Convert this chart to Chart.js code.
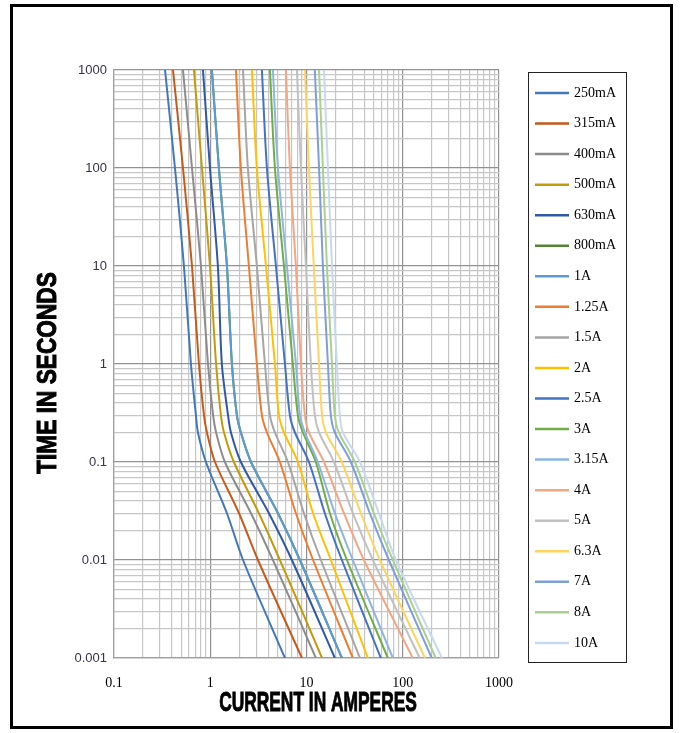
<!DOCTYPE html>
<html>
<head>
<meta charset="utf-8">
<script src="https://cdn.jsdelivr.net/npm/chart.js@4.4.1/dist/chart.umd.min.js"></script>
<style>
  html, body { margin: 0; padding: 0; background: #fff; }
</style>
</head>
<body>
<canvas id="fuseChart" width="681" height="733"></canvas>
<script>
// time points (seconds) shared by every curve
const times = [1000, 100, 10, 1, 0.3, 0.2, 0.1, 0.03, 0.01, 0.001];

const fuseLabels = ['250mA', '315mA', '400mA', '500mA', '630mA', '800mA', '1A', '1.25A', '1.5A', '2A',
    '2.5A', '3A', '3.15A', '4A', '5A', '6.3A', '7A', '8A', '10A'];
const fuseColors = ['#4178b8', '#c55a1a', '#8c8c8c', '#c39a0a', '#2f58a6', '#548235', '#5b9bd5', '#ed7d31',
    '#a5a5a5', '#ffc000', '#4472c4', '#70ad47', '#8db4e2', '#f4a582', '#c0c0c0', '#ffd45e', '#7f9ddb',
    '#a9d18e', '#c5d9f1'];

// current (A) at each time point
const cur250mA = [0.339, 0.430, 0.533, 0.630, 0.710, 0.745, 0.902, 1.49, 2.19, 5.97];
const cur315mA = [0.410, 0.521, 0.646, 0.763, 0.860, 0.924, 1.12, 1.99, 3.13, 8.96];
const cur400mA = [0.521, 0.646, 0.801, 0.947, 1.07, 1.15, 1.42, 2.65, 4.48, 12.5];
const cur500mA = [0.677, 0.820, 0.993, 1.15, 1.29, 1.39, 1.76, 3.20, 5.29, 14.5];
const cur630mA = [0.840, 0.993, 1.20, 1.32, 1.53, 1.64, 2.08, 4.07, 7.05, 19.7];
const cur800mA = [1.04, 1.23, 1.49, 1.68, 1.89, 2.08, 2.65, 5.05, 8.54, 23.3];
const cur1A = [1.04, 1.23, 1.49, 1.68, 1.89, 2.08, 2.65, 5.05, 8.54, 23.3];
const cur1_25A = [1.85, 2.08, 2.52, 3.05, 3.44, 3.88, 5.29, 7.76, 11.7, 30.3];
const cur1_5A = [2.19, 2.46, 3.05, 3.70, 4.17, 4.70, 6.41, 9.40, 14.1, 35.9];
const cur2A = [2.71, 3.05, 3.79, 4.70, 5.17, 5.83, 8.14, 11.7, 17.9, 43.4];
const cur2_5A = [3.44, 3.88, 4.81, 5.97, 6.72, 7.58, 10.6, 15.5, 23.3, 59.2];
const cur3A = [4.17, 4.70, 5.83, 7.22, 8.14, 9.18, 12.5, 17.5, 26.3, 70.0];
const cur3_15A = [4.48, 5.05, 6.26, 7.76, 8.54, 9.63, 13.1, 19.7, 30.3, 78.9];
const cur4A = [6.11, 6.72, 7.76, 8.75, 9.63, 10.6, 15.2, 24.5, 39.5, 127];
const cur5A = [7.95, 8.75, 9.86, 11.1, 12.2, 13.5, 19.3, 30.3, 48.9, 150];
const cur6_3A = [9.63, 10.6, 11.9, 13.5, 14.5, 15.9, 23.3, 36.7, 57.8, 170];
const cur7A = [12.2, 13.5, 14.8, 16.7, 17.9, 19.7, 28.9, 45.5, 71.7, 200];
const cur8A = [13.5, 14.8, 16.3, 18.4, 19.7, 21.7, 31.8, 50.1, 78.9, 220];
const cur10A = [15.2, 16.7, 18.4, 20.7, 22.2, 23.9, 35.9, 56.5, 84.8, 255];

const fuseCurrents = [cur250mA, cur315mA, cur400mA, cur500mA, cur630mA, cur800mA, cur1A, cur1_25A, cur1_5A,
    cur2A, cur2_5A, cur3A, cur3_15A, cur4A, cur5A, cur6_3A, cur7A, cur8A, cur10A];

const xTickLabels = ['0.1', '1', '10', '100', '1000'];
const yTickLabels = ['0.001', '0.01', '0.1', '1', '10', '100', '1000'];

// power of ten? -> exponent, else null
function decadeOf(v) {
    const e = Math.log10(v);
    return Math.abs(e - Math.round(e)) < 1e-9 ? Math.round(e) : null;
}

// keep only 1..9 x 10^n grid lines (drop the 1.5, 15, ... ticks)
function keepWholeTicks(axis) {
    axis.ticks = axis.ticks.filter(function (t) {
        const m = t.value / Math.pow(10, Math.floor(Math.log10(t.value) + 1e-9));
        return Math.abs(m - Math.round(m)) < 1e-6;
    });
}

function gridColor(ctx) {
    return ctx.tick && decadeOf(ctx.tick.value) !== null ? '#929292' : '#c6c6c6';
}

const datasets = fuseCurrents.map(function (cur, i) {
    return {
        label: fuseLabels[i],
        data: cur.map(function (c, k) { return { x: c, y: times[k] }; }),
        borderColor: fuseColors[i],
        backgroundColor: fuseColors[i],
        borderWidth: 2,
        pointRadius: 0,
        tension: 0.3,
        order: fuseCurrents.length - i   // later series on top, like the original
    };
});

// frame, legend box and the two heavy axis titles
const decorations = {
    id: 'decorations',
    beforeDraw(chart) {
        const ctx = chart.ctx;
        ctx.save();
        ctx.fillStyle = '#fff';
        ctx.fillRect(0, 0, chart.width, chart.height);
        ctx.restore();
    },
    afterDraw(chart) {
        const ctx = chart.ctx;
        ctx.save();
        ctx.strokeStyle = '#000';
        ctx.lineWidth = 3;
        ctx.strokeRect(11.5, 5.5, 660, 722);

        ctx.lineWidth = 1;
        ctx.strokeStyle = '#222';
        ctx.strokeRect(528.5, 72.5, 98, 590);

        chart.data.datasets.forEach(function (ds, i) {
            const y = 93 + i * 30.55;
            ctx.strokeStyle = ds.borderColor;
            ctx.lineWidth = 2.5;
            ctx.beginPath();
            ctx.moveTo(535, y);
            ctx.lineTo(569, y);
            ctx.stroke();
            ctx.fillStyle = '#000';
            ctx.font = '14px "Liberation Serif"';
            ctx.textBaseline = 'middle';
            ctx.textAlign = 'left';
            ctx.fillText(ds.label, 574, y);
        });

        // axis titles (condensed bold)
        ctx.fillStyle = '#000';
        ctx.strokeStyle = '#000';
        ctx.lineWidth = 1;
        ctx.textAlign = 'center';
        ctx.textBaseline = 'middle';
        ctx.font = 'bold 28px "Liberation Sans"';

        ctx.save();
        ctx.translate(318, 703);
        ctx.scale(0.62, 1);
        ctx.fillText('CURRENT IN AMPERES', 0, 0);
        ctx.strokeText('CURRENT IN AMPERES', 0, 0);
        ctx.restore();

        ctx.save();
        ctx.translate(48, 373);
        ctx.rotate(-Math.PI / 2);
        ctx.scale(0.81, 1);
        ctx.fillText('TIME IN SECONDS', 0, 0);
        ctx.strokeText('TIME IN SECONDS', 0, 0);
        ctx.restore();

        ctx.restore();
    }
};

new Chart(document.getElementById('fuseChart'), {
    type: 'line',
    data: { datasets: datasets },
    plugins: [decorations],
    options: {
        responsive: false,
        animation: false,
        devicePixelRatio: 1,
        layout: { padding: { left: 0, top: 70, right: 182, bottom: 0 } },
        plugins: {
            legend: { display: false },
            tooltip: { enabled: false }
        },
        scales: {
            x: {
                type: 'logarithmic',
                min: 0.1,
                max: 1000,
                afterBuildTicks: keepWholeTicks,
                afterFit: function (scale) { scale.height = 75; },
                grid: { color: gridColor, lineWidth: 1.2, drawTicks: false },
                border: { color: '#a0a0a0', width: 1.2 },
                ticks: {
                    autoSkip: false,
                    maxRotation: 0,
                    padding: 17,
                    color: '#000',
                    font: { family: 'Liberation Serif', size: 14 },
                    callback: function (v) {
                        const e = decadeOf(v);
                        return e === null ? '' : xTickLabels[e + 1];
                    }
                }
            },
            y: {
                type: 'logarithmic',
                min: 0.001,
                max: 1000,
                afterBuildTicks: keepWholeTicks,
                afterFit: function (scale) { scale.width = 114; },
                grid: { color: gridColor, lineWidth: 1.2, drawTicks: false },
                border: { color: '#a0a0a0', width: 1.2 },
                ticks: {
                    autoSkip: false,
                    padding: 7,
                    color: '#33334a',
                    font: { family: 'Liberation Sans', size: 13 },
                    callback: function (v) {
                        const e = decadeOf(v);
                        return e === null ? '' : yTickLabels[e + 3];
                    }
                }
            }
        }
    }
});
</script>
</body>
</html>
